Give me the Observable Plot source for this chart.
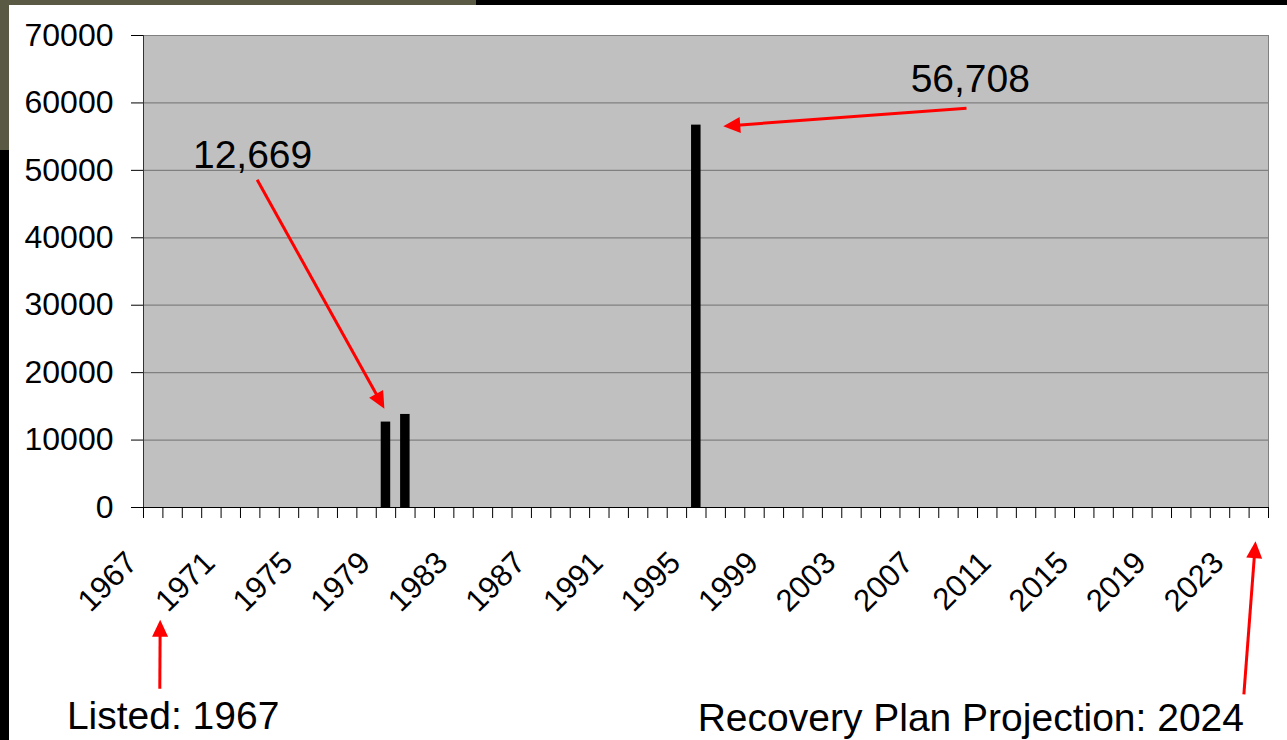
<!DOCTYPE html>
<html>
<head>
<meta charset="utf-8">
<script src="https://cdn.jsdelivr.net/npm/d3@7"></script>
<script src="https://cdn.jsdelivr.net/npm/@observablehq/plot@0.6"></script>
<style>
  html, body { margin: 0; padding: 0; width: 1287px; height: 740px; overflow: hidden; background: #000; }
  #photo { position: absolute; left: 0; top: 0; width: 476px; height: 150px; background: #5a5a44; }
  #chart { position: absolute; left: 9px; top: 5px; width: 1278px; height: 735px; background: #fff; overflow: hidden; }
</style>
</head>
<body>
<div id="photo"></div>
<div id="chart"></div>
<script>
// ---- data ----
const barYears = [1979, 1980, 1995];
const barValues = [12669, 13800, 56708];

const yTickValues = [0, 10000, 20000, 30000, 40000, 50000, 60000, 70000];
const xTickLabels = [1967, 1971, 1975, 1979, 1983, 1987, 1991, 1995, 1999, 2003, 2007, 2011, 2015, 2019, 2023];
const firstYear = 1967;
const lastYear = 2024;

// annotations (data units: year, count)
const noteTexts = ["12,669", "56,708", "Listed: 1967", "Recovery Plan Projection: 2024"];
const noteX = [1969.05, 2006.05, 1962.55, 1995.07];
const noteY = [50420, 61590, -32920, -33200];

const arrowFromX = [1972.36, 2008.93, 1967.34, 2023.23];
const arrowFromY = [48600, 59220, -26890, -27730];
const arrowToX = [1978.92, 1996.39, 1967.36, 2023.83];
const arrowToY = [14640, 56550, -16650, -5000];

// ---- tables ----
const bars = barYears.map((year, i) => ({year, value: barValues[i]}));
const notes = noteTexts.map((text, i) => ({text, x: noteX[i], y: noteY[i]}));
const boundaries = d3.range(firstYear - 0.5, lastYear + 1, 1);

const font = "'Liberation Sans', Arial, Helvetica, sans-serif";
const base = {
  width: 1278,
  height: 735,
  marginLeft: 134,
  marginRight: 19,
  marginTop: 30,
  marginBottom: 233,
  style: {background: "white", fontFamily: font, color: "black", overflow: "visible"},
  x: {type: "linear", domain: [firstYear - 0.5, lastYear + 0.5], label: null},
  y: {type: "linear", domain: [0, 70000], label: null}
};

// probe scales to orient arrow heads in screen space
const probe = Plot.plot({...base, marks: [Plot.frame()]});
const sx = probe.scale("x"), sy = probe.scale("y");
const headLen = 17;
const arrows = arrowFromX.map((x1, i) => {
  const y1 = arrowFromY[i], x2 = arrowToX[i], y2 = arrowToY[i];
  const px1 = sx.apply(x1), py1 = sy.apply(y1), px2 = sx.apply(x2), py2 = sy.apply(y2);
  const dx = px2 - px1, dy = py2 - py1, len = Math.hypot(dx, dy);
  const ux = dx / len, uy = dy / len;
  return {
    x1, y1, x2, y2,
    sx2: sx.invert(px2 - ux * (headLen - 3)),
    sy2: sy.invert(py2 - uy * (headLen - 3)),
    rotate: Math.atan2(dx, -dy) * 180 / Math.PI
  };
});

const chart = Plot.plot({
  ...base,
  marks: [
    Plot.frame({fill: "#c0c0c0", stroke: "#808080"}),
    Plot.ruleY(yTickValues.filter(d => d > 0), {stroke: "#808080", strokeWidth: 1.2}),
    Plot.rectY(bars, {x1: d => d.year - 0.245, x2: d => d.year + 0.245, y: "value", fill: "black"}),
    Plot.ruleX([firstYear - 0.5], {stroke: "#333"}),
    Plot.ruleY([0], {stroke: "black", strokeWidth: 1.2}),
    Plot.axisY({ticks: yTickValues, tickSize: 12, tickPadding: 18, fontSize: 32, tickFormat: d => String(d), label: null}),
    Plot.axisX({ticks: boundaries, tickSize: 11, tickFormat: () => "", label: null}),
    Plot.text(xTickLabels, {
      x: d => d, frameAnchor: "bottom", text: d => String(d),
      rotate: -45, textAnchor: "end", lineAnchor: "bottom",
      dx: -14, dy: 57, fontSize: 31, fill: "black"
    }),
    Plot.link(arrows, {x1: "x1", y1: "y1", x2: "sx2", y2: "sy2", stroke: "#ff0000", strokeWidth: 3}),
    Plot.vector(arrows, {
      x: "x2", y: "y2", rotate: "rotate", length: headLen, r: 8,
      shape: "spike", anchor: "end", fill: "#ff0000", stroke: "none"
    }),
    Plot.text(notes, {x: "x", y: "y", text: "text", textAnchor: "start", lineAnchor: "bottom", fontSize: 39, fill: "black"})
  ]
});

document.getElementById("chart").appendChild(chart);
</script>
</body>
</html>
